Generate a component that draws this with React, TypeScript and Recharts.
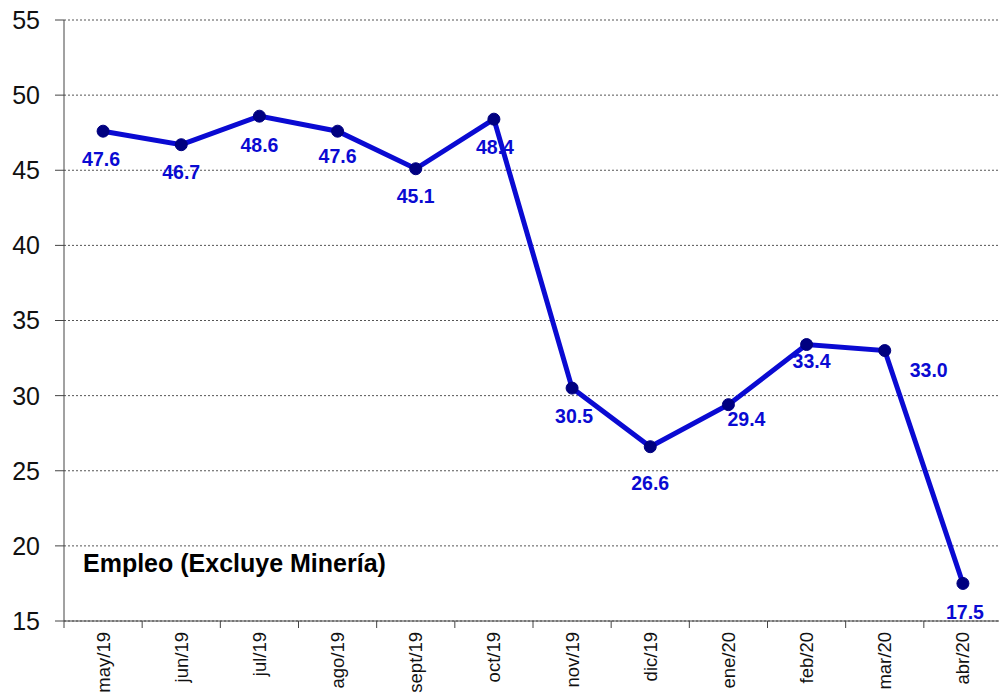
import { LineChart, Line, XAxis, YAxis, CartesianGrid, LabelList } from 'recharts';

const MONTHS = ['may/19', 'jun/19', 'jul/19', 'ago/19', 'sept/19', 'oct/19', 'nov/19', 'dic/19', 'ene/20', 'feb/20', 'mar/20', 'abr/20'];
const EMPLEO = [47.6, 46.7, 48.6, 47.6, 45.1, 48.4, 30.5, 26.6, 29.4, 33.4, 33.0, 17.5];
const Y_TICKS = [15, 20, 25, 30, 35, 40, 45, 50, 55];

// where each value label sits relative to its point (Excel placed them by hand)
const LABEL_NUDGE = [[-2, 28], [0, 27], [0, 29], [0, 25], [0, 27], [1, 28], [2, 28], [0, 36], [18, 14], [5, 16], [44, 19], [2, 29]];

const data = MONTHS.map((mes, i) => ({ mes, empleo: EMPLEO[i] }));

const FONT = '"Liberation Sans", Arial, sans-serif';
const BLUE = '#0A0AD2';

function MonthTick(props: any) {
    const { x, y, payload } = props;
    const half = payload && payload.offset ? payload.offset : 39;
    return (
        <g>
            <line x1={x - half} y1={y} x2={x - half} y2={y + 7} stroke="#444" strokeWidth={1} />
            <text
                transform={`translate(${x}, ${y + 11}) rotate(-90)`}
                textAnchor="end"
                dominantBaseline="central"
                fontSize={18.5}
                fontFamily={FONT}
                fill="#111"
            >
                {payload.value}
            </text>
        </g>
    );
}

function ValueLabel(props: any) {
    const { x, y, value, index } = props;
    const [dx, dy] = LABEL_NUDGE[index] || [0, 28];
    return (
        <text
            x={x + dx}
            y={y + dy}
            textAnchor="middle"
            dominantBaseline="central"
            fontSize={19.5}
            fontWeight="bold"
            fontFamily={FONT}
            fill={BLUE}
        >
            {Number(value).toFixed(1)}
        </text>
    );
}

export default function App() {
    return (
        <div style={{ position: 'absolute', top: 0, left: 0, width: 999, height: 700, overflow: 'hidden', background: '#fff' }}>
            <LineChart width={1004} height={700} data={data} margin={{ top: 20, right: 2, left: 0, bottom: 0 }}>
                <CartesianGrid horizontal vertical={false} stroke="#555" strokeDasharray="2 2" />
                <XAxis
                    dataKey="mes"
                    scale="band"
                    axisLine={{ stroke: '#444' }}
                    tickLine={false}
                    tickSize={0}
                    tickMargin={0}
                    interval={0}
                    height={79}
                    tick={<MonthTick />}
                />
                <YAxis
                    domain={[15, 55]}
                    ticks={Y_TICKS}
                    width={64}
                    axisLine={{ stroke: '#444' }}
                    tickLine={{ stroke: '#444' }}
                    tickSize={9}
                    tickMargin={15}
                    interval={0}
                    tick={{ fill: '#111', fontSize: 25, fontFamily: FONT }}
                />
                <Line
                    type="linear"
                    dataKey="empleo"
                    stroke={BLUE}
                    strokeWidth={5}
                    dot={{ r: 6, fill: '#000080', stroke: '#000080', strokeWidth: 1 }}
                    activeDot={false}
                    isAnimationActive={false}
                >
                    <LabelList dataKey="empleo" content={<ValueLabel />} />
                </Line>
            </LineChart>
            <svg width={999} height={700} style={{ position: 'absolute', top: 0, left: 0, pointerEvents: 'none' }}>
                <text x={83} y={572} fontSize={25} fontWeight="bold" fontFamily={FONT} fill="#000">
                    Empleo (Excluye Minería)
                </text>
            </svg>
        </div>
    );
}
